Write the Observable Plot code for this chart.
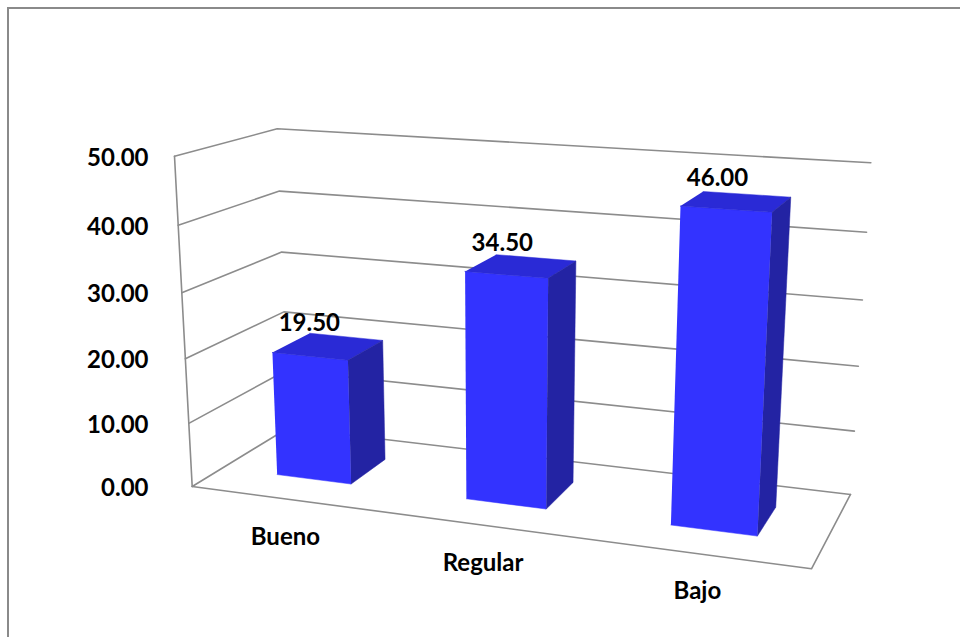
<!DOCTYPE html>
<html>
<head>
<meta charset="utf-8">
<script src="https://cdn.jsdelivr.net/npm/d3@7"></script>
<script src="https://cdn.jsdelivr.net/npm/@observablehq/plot@0.6"></script>
<style>
  html, body { margin: 0; padding: 0; background: #fff; overflow: hidden; }
  #wrap { position: relative; width: 960px; height: 637px; overflow: hidden; }
  #border { position: absolute; left: 7px; top: 7px; right: -20px; bottom: -20px;
            border: 2px solid #8a8a8a; pointer-events: none; }
</style>
</head>
<body>
<div id="wrap"><div id="chart"></div><div id="border"></div></div>
<script>
// Data
const categories = ["Bueno", "Regular", "Bajo"];
const values = [19.5, 34.5, 46.0];
const yTicks = [0, 10, 20, 30, 40, 50];
const yMax = 50;

// Bar footprint inside each category slot (gap width 150%) and depth slot
const barWidth = 0.4;
const barDepth = 0.4;

// Perspective camera for the unit box: X along categories, Y value, Z depth (0 = front).
// Screen = (U·p) / (W·p) , (V·p) / (W·p) with p = [X, Y, Z, 1].
const camera = {
  U: [526.56, -27.183, 127.29, 191.7],
  V: [17.31, -338.79, -11.90, 486],
  W: [-0.11433, -0.0545, 0.10912, 1]
};
function project(X, Y, Z) {
  const p = [X, Y, Z, 1];
  const dot = (r) => r[0] * p[0] + r[1] * p[1] + r[2] * p[2] + r[3];
  const w = dot(camera.W);
  return { px: dot(camera.U) / w, py: dot(camera.V) / w };
}

const n = categories.length;
const yn = (v) => v / yMax;

// Walls: gridlines on the left wall and back wall, plus the floor outline
const grid = [];
yTicks.forEach((t) => {
  [[0, yn(t), 0], [0, yn(t), 1], [1, yn(t), 1]].forEach(([X, Y, Z]) =>
    grid.push({ key: "g" + t, ...project(X, Y, Z) }));
});
[[0, 0, 0], [0, 1, 0]].forEach(([X, Y, Z]) => grid.push({ key: "edge", ...project(X, Y, Z) }));
[[0, 0, 0], [1, 0, 0], [1, 0, 1]].forEach(([X, Y, Z]) => grid.push({ key: "floor", ...project(X, Y, Z) }));

// Bar faces
const z0 = (1 - barDepth) / 2, z1 = z0 + barDepth;
const frontFaces = [], topFaces = [], sideFaces = [];
categories.forEach((c, i) => {
  const x0 = (i + (1 - barWidth) / 2) / n, x1 = (i + (1 + barWidth) / 2) / n;
  const h = yn(values[i]);
  [[x0, 0, z0], [x1, 0, z0], [x1, h, z0], [x0, h, z0]].forEach(([X, Y, Z]) => frontFaces.push({ key: c, ...project(X, Y, Z) }));
  [[x0, h, z0], [x1, h, z0], [x1, h, z1], [x0, h, z1]].forEach(([X, Y, Z]) => topFaces.push({ key: c, ...project(X, Y, Z) }));
  [[x1, 0, z0], [x1, 0, z1], [x1, h, z1], [x1, h, z0]].forEach(([X, Y, Z]) => sideFaces.push({ key: c, ...project(X, Y, Z) }));
});

// Labels
const tickPts = yTicks.map((t) => ({ t, ...project(0, yn(t), 0) }));
const tickX = d3.min(tickPts, (d) => d.px) - 26;
const valueLabels = categories.map((c, i) => ({ text: values[i].toFixed(2), ...project((i + 0.5) / n, yn(values[i]), 0.5) }));
const catLabels = categories.map((c, i) => ({ text: c, ...project((i + 0.5) / n, 0, 0) }));

const font = { fontFamily: "Lato, 'Open Sans', sans-serif", fontWeight: "bold", fontSize: 24, fill: "#000" };

const chart = Plot.plot({
  width: 960,
  height: 637,
  margin: 0,
  x: { type: "identity", axis: null },
  y: { type: "identity", axis: null },
  marks: [
    Plot.line(grid, { x: "px", y: "py", z: "key", stroke: "#8c8c8c", strokeWidth: 1.6 }),
    Plot.line(frontFaces, { x: "px", y: "py", z: "key", fill: "#3333ff", stroke: "#3333ff", strokeWidth: 0.5 }),
    Plot.line(topFaces, { x: "px", y: "py", z: "key", fill: "#2a2ad6", stroke: "#2a2ad6", strokeWidth: 0.5 }),
    Plot.line(sideFaces, { x: "px", y: "py", z: "key", fill: "#2323a3", stroke: "#2323a3", strokeWidth: 0.5 }),
    Plot.text(tickPts, { x: () => tickX, y: "py", dy: 2, text: (d) => d.t.toFixed(2), textAnchor: "end", ...font }),
    Plot.text(valueLabels, { x: "px", y: "py", dx: -19, dy: -23, text: "text", ...font }),
    Plot.text(catLabels, { x: "px", y: "py", dy: 38, text: "text", ...font })
  ]
});
document.getElementById("chart").append(chart);
</script>
</body>
</html>
